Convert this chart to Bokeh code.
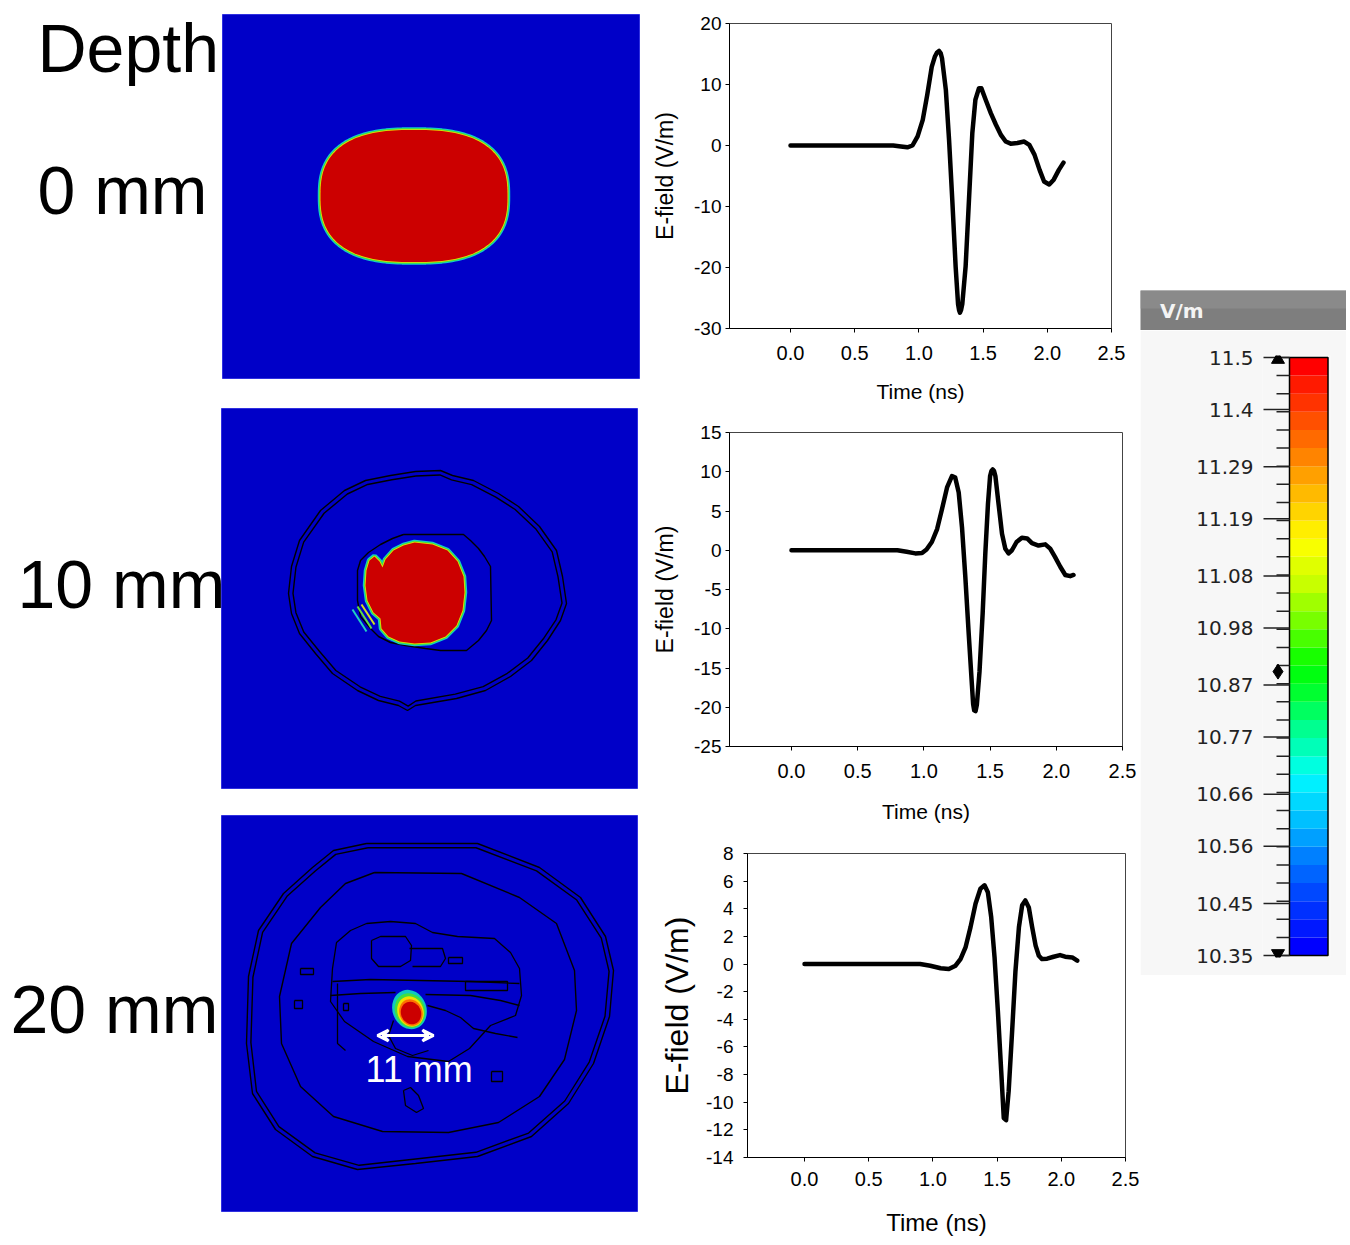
import numpy as np
from bokeh.plotting import figure
from bokeh.layouts import row, column
from bokeh.models import Range1d, FixedTicker, Spacer, PrintfTickFormatter, Arrow, VeeHead
from bokeh.core.properties import value
from bokeh.embed import file_html
from bokeh.resources import INLINE

# ---------------- waveform data ----------------
t_0mm = [0.0, 0.2, 0.4, 0.6, 0.8, 0.86, 0.91, 0.95, 0.99, 1.03, 1.065, 1.10, 1.125, 1.14, 1.157,
         1.17, 1.18, 1.21, 1.235, 1.26, 1.286, 1.305, 1.313, 1.32, 1.328, 1.338, 1.364, 1.39,
         1.416, 1.44, 1.468, 1.486, 1.52, 1.56, 1.60, 1.64, 1.676, 1.715, 1.767, 1.82, 1.86,
         1.90, 1.94, 1.975, 2.015, 2.05, 2.09, 2.126]
e_0mm = [0, 0, 0, 0, 0, -0.15, -0.3, 0.0, 1.5, 4.2, 8.3, 12.9, 14.6, 15.2, 15.5,
         15.1, 14.3, 9.1, 0.9, -8.9, -19.8, -26.0, -27.0, -27.4, -27.0, -26.0, -19.8, -8.9,
         2.0, 7.5, 9.4, 9.4, 7.5, 5.3, 3.4, 1.7, 0.65, 0.3, 0.4, 0.65, 0.1,
         -1.5, -4.0, -5.9, -6.4, -5.6, -4.0, -2.8]

t_10mm = [0.0, 0.2, 0.4, 0.6, 0.8, 0.87, 0.935, 0.986, 1.02, 1.06, 1.10, 1.137, 1.175, 1.212,
          1.237, 1.263, 1.288, 1.313, 1.338, 1.363, 1.372, 1.38, 1.39, 1.40, 1.42, 1.444, 1.464,
          1.484, 1.50, 1.51, 1.52, 1.53, 1.54, 1.564, 1.59, 1.615, 1.64, 1.665, 1.70, 1.74,
          1.78, 1.816, 1.866, 1.917, 1.954, 1.99, 2.03, 2.068, 2.105, 2.13]
e_10mm = [0, 0, 0, 0, 0, -0.2, -0.4, -0.35, 0.1, 1.05, 2.7, 5.25, 8.0, 9.45,
          9.25, 7.35, 2.9, -3.4, -10.5, -17.2, -19.6, -20.4, -20.5, -19.7, -15.5, -8.0, -0.4,
          5.9, 9.45, 10.1, 10.3, 10.1, 9.45, 5.9, 2.1, 0.2, -0.4, 0.0, 1.05, 1.6,
          1.5, 0.9, 0.6, 0.75, 0.2, -0.85, -2.1, -3.15, -3.3, -3.15]

t_20mm = [0.0, 0.2, 0.4, 0.6, 0.8, 0.9, 0.98, 1.06, 1.124, 1.176, 1.215, 1.254, 1.293, 1.332,
          1.37, 1.402, 1.428, 1.454, 1.48, 1.506, 1.532, 1.552, 1.57, 1.59, 1.617, 1.643,
          1.67, 1.695, 1.72, 1.747, 1.773, 1.80, 1.825, 1.85, 1.89, 1.94, 1.99, 2.03, 2.085,
          2.124]
e_20mm = [0, 0, 0, 0, 0, 0, -0.12, -0.3, -0.36, -0.12, 0.36, 1.2, 2.67, 4.36,
          5.45, 5.7, 5.2, 3.4, 0.5, -3.4, -7.75, -11.15, -11.3, -9.2, -4.85, -0.5,
          2.67, 4.25, 4.6, 4.1, 2.67, 1.33, 0.6, 0.36, 0.39, 0.53, 0.65, 0.53, 0.48,
          0.24]

x_ticks = [0.0, 0.5, 1.0, 1.5, 2.0, 2.5]
y_ticks_0mm = [-30, -20, -10, 0, 10, 20]
y_ticks_10mm = [-25, -20, -15, -10, -5, 0, 5, 10, 15]
y_ticks_20mm = [-14, -12, -10, -8, -6, -4, -2, 0, 2, 4, 6, 8]

# ---------------- colour scale ----------------
cb_values = [10.35, 10.45, 10.56, 10.66, 10.77, 10.87, 10.98, 11.08, 11.19, 11.29, 11.4, 11.5]
cb_labels = ["10.35", "10.45", "10.56", "10.66", "10.77", "10.87", "10.98", "11.08", "11.19",
             "11.29", "11.4", "11.5"]
cb_diamond = 10.896
cb_colors_top_down = ["#ff0000", "#ff1a00", "#ff3300", "#ff5000", "#ff6a00", "#ff8400",
                      "#ffa000", "#ffba00", "#ffd400", "#ffee00", "#f8ff00", "#e0ff00",
                      "#c8ff00", "#a0ff00", "#78ff00", "#48ff00", "#18ff00", "#00ff10",
                      "#00ff30", "#00ff60", "#00ff90", "#00ffb8", "#00ffe0", "#00f0ff",
                      "#00d8ff", "#00c0ff", "#00a0ff", "#0080ff", "#0064ff", "#0048ff",
                      "#0030ff", "#0018ff", "#0000ff"]

# ---------------- left panel (field maps) ----------------
depth_labels = ["Depth", "0 mm", "10 mm", "20 mm"]
depth_x = [37, 37, 17, 10]
depth_y = [47, 189, 583, 1008]

map_left = [222, 221, 221]
map_right = [639, 637, 637]
map_top = [14, 408, 815]
map_bottom = [378, 788, 1211]

# 0 mm: red region as rounded superellipse (cx, cy, a, b, n)
spot0 = (413.5, 195.5, 93.5, 66.0, 2.6)

# 10 mm red region outline
spot10_x = [414, 432, 447, 457, 463, 464, 462, 456, 445, 430, 414, 399, 388, 381, 380, 373, 367,
            365, 366, 369, 374, 379, 382, 385, 393, 403]
spot10_y = [542, 544, 550, 561, 576, 592, 610, 625, 636, 642, 643, 641, 636, 628, 618, 612, 600,
            585, 570, 560, 556, 561, 567, 559, 550, 545]
streak10_x = [[352, 366], [357, 371], [361, 374]]
streak10_y = [[609, 631], [606, 628], [604, 624]]
streak10_c = ["#20d0c0", "#60e040", "#d0e020"]

inner10_x = [403, 463, 470, 478, 484, 490, 491, 486, 478, 466, 440, 425, 405, 390, 378, 370, 360,
             357, 357, 360, 368, 380, 392]
inner10_y = [534, 534, 540, 548, 556, 566, 620, 630, 640, 650, 650, 648, 645, 642, 636, 628, 616,
             600, 570, 560, 552, 544, 538]
outer10_x = [415, 440, 452, 473, 498, 518, 539, 556, 562, 566, 560, 547, 531, 510, 485, 456, 415,
             407, 398, 378, 357, 332, 315, 299, 291, 288, 291, 299, 320, 344, 365, 390]
outer10_y = [471, 470, 475, 480, 493, 506, 526, 550, 576, 603, 620, 640, 660, 676, 690, 698, 705,
             710, 705, 700, 690, 673, 653, 633, 613, 593, 566, 540, 510, 490, 480, 475]

# 20 mm contours
outer20_x = [366, 477, 539, 580, 605, 613, 609, 593, 568, 531, 477, 415, 357, 312, 275, 252, 246,
             248, 258, 283, 312, 333]
outer20_y = [843, 843, 867, 897, 936, 970, 1016, 1063, 1103, 1136, 1156, 1163, 1169, 1156, 1129,
             1093, 1043, 976, 930, 893, 867, 850]
mid20_x = [374, 461, 519, 556, 574, 576, 564, 539, 498, 448, 382, 333, 300, 281, 279, 291, 320, 345]
mid20_y = [872, 873, 897, 923, 970, 1010, 1059, 1096, 1122, 1132, 1131, 1116, 1086, 1043, 996, 943,
           907, 883]
tissue20_x = [
    [366, 390, 415, 432, 457, 494, 510, 519, 521, 515, 490, 469, 448, 407, 373, 344, 330, 332, 336, 350, 366],
    [332, 370, 420, 470, 519],
    [330, 360, 395],
    [425, 470, 500, 519],
    [371, 380, 405, 411, 410, 400, 378, 371, 371],
    [409, 442, 445, 440, 412],
    [465, 507, 507, 465, 465],
    [427, 445, 460, 473, 495, 517],
    [393, 388, 395, 412, 428],
    [403, 410, 418, 423, 416, 405, 403],
    [300, 313, 313, 300, 300],
    [294, 302, 302, 294, 294],
    [343, 348, 348, 343, 343],
    [491, 502, 502, 491, 491],
    [448, 462, 462, 448, 448],
    [337, 337, 345],
]
tissue20_y = [
    [923, 921, 923, 932, 936, 938, 952, 968, 995, 1015, 1025, 1048, 1061, 1056, 1041, 1021, 1001, 968, 942, 930, 923],
    [981, 979, 980, 981, 983],
    [995, 993, 992],
    [994, 995, 1000, 1005],
    [940, 936, 936, 945, 960, 966, 966, 958, 940],
    [948, 948, 958, 966, 966],
    [981, 981, 990, 990, 981],
    [1005, 1010, 1017, 1028, 1033, 1037],
    [1020, 1035, 1048, 1055, 1050],
    [1090, 1087, 1095, 1108, 1112, 1105, 1090],
    [968, 968, 974, 974, 968],
    [1000, 1000, 1008, 1008, 1000],
    [1003, 1003, 1010, 1010, 1003],
    [1071, 1071, 1081, 1081, 1071],
    [957, 957, 963, 963, 957],
    [983, 1043, 1050],
]
hot20_x = [409, 409.5, 410, 410.5, 410.5]
hot20_y = [1009, 1010, 1011, 1012, 1012.5]
hot20_w = [34, 30, 26, 23, 20]
hot20_h = [40, 35, 31, 27, 23]
hot20_c = ["#10c8c0", "#40e040", "#f0e000", "#ff7000", "#cc0000"]
arrow20_x = [377, 433]
arrow20_y = [1035, 1035]
size_label = "11 mm"
size_label_x = 365
size_label_y = 1069

HEAT_BLUE = "#0000c8"
HEAT_RED = "#cc0000"
FONT = "Liberation Sans"


def closed(xs, ys):
    return list(xs) + [xs[0]], list(ys) + [ys[0]]


def shrink(xs, ys, d):
    cx, cy = np.mean(xs), np.mean(ys)
    xa, ya = np.array(xs, float), np.array(ys, float)
    r = np.hypot(xa - cx, ya - cy)
    f = (r - d) / r
    return list(cx + (xa - cx) * f), list(cy + (ya - cy) * f)


def hot_spot(p, xs, ys):
    # red region with thin yellow / green / cyan rim
    p.patch(xs, ys, fill_color="#10c8d0", line_color="#10c8d0", line_width=5.5)
    p.patch(xs, ys, fill_color="#40e040", line_color="#40e040", line_width=3.5)
    p.patch(xs, ys, fill_color="#e8e000", line_color="#e8e000", line_width=1.6)
    p.patch(xs, ys, fill_color=HEAT_RED, line_color=None)


def bare(p):
    p.outline_line_color = None
    p.grid.visible = False
    p.frame_align = False


PAGE_H = 1245

left = figure(width=640, height=PAGE_H, x_range=Range1d(0, 640), y_range=Range1d(PAGE_H, 0),
              output_backend="svg", toolbar_location=None, min_border=0,
              x_axis_location=None, y_axis_location=None)
bare(left)
left.background_fill_color = "white"
left.border_fill_color = "white"

left.quad(left=map_left, right=map_right, top=map_top, bottom=map_bottom,
          fill_color=HEAT_BLUE, line_color="#3030e0", line_width=1)

# 0 mm
cx, cy, a, b, n = spot0
th = np.linspace(0, 2 * np.pi, 181)[:-1]
c, s = np.cos(th), np.sin(th)
sx = list(cx + a * np.sign(c) * np.abs(c) ** (2 / n))
sy = list(cy + b * np.sign(s) * np.abs(s) ** (2 / n))
hot_spot(left, sx, sy)

# 10 mm
ox, oy = closed(outer10_x, outer10_y)
left.line(ox, oy, line_color="black", line_width=1.4)
ix, iy = shrink(outer10_x, outer10_y, 4.5)
ix, iy = closed(ix, iy)
left.line(ix, iy, line_color="black", line_width=1.4)
nx, ny = closed(inner10_x, inner10_y)
left.line(nx, ny, line_color="black", line_width=1.4)
hot_spot(left, spot10_x, spot10_y)
left.multi_line(streak10_x, streak10_y, line_color=streak10_c, line_width=2)

# 20 mm
ox, oy = closed(outer20_x, outer20_y)
left.line(ox, oy, line_color="black", line_width=1.4)
ix, iy = shrink(outer20_x, outer20_y, 4.5)
ix, iy = closed(ix, iy)
left.line(ix, iy, line_color="black", line_width=1.4)
mx, my = closed(mid20_x, mid20_y)
left.line(mx, my, line_color="black", line_width=1.4)
left.multi_line(tissue20_x, tissue20_y, line_color="black", line_width=1.3)
left.ellipse(x=hot20_x, y=hot20_y, width=hot20_w, height=hot20_h, angle=0.35,
             fill_color=hot20_c, line_color=None)
left.add_layout(Arrow(start=VeeHead(size=11, line_color="white", line_width=3, fill_color=None),
                      end=VeeHead(size=11, line_color="white", line_width=3, fill_color=None),
                      x_start=arrow20_x[0], y_start=arrow20_y[0],
                      x_end=arrow20_x[1], y_end=arrow20_y[1],
                      line_color="white", line_width=3))
left.text(x=[size_label_x], y=[size_label_y], text=[size_label], text_color="white",
          text_font=value(FONT), text_font_size="36px",
          text_align="left", text_baseline="alphabetic")

left.text(x=depth_x, y=depth_y, text=depth_labels, text_color="black",
          text_font=value(FONT), text_font_size="68px",
          text_align="left", text_baseline="alphabetic")


# ---------------- waveform charts ----------------
def make_chart(t, e, x_start, y_rng, yticks, h, bl, br, bt, bb, ylab_size, xlab_size,
               ylab_so, xlab_so, ytick_so, xtick_so):
    p = figure(width=500, height=h, x_range=Range1d(x_start, 2.5), y_range=Range1d(*y_rng),
               output_backend="svg", toolbar_location=None,
               min_border_left=bl, min_border_right=br, min_border_top=bt, min_border_bottom=bb)
    p.frame_align = False
    p.line(t, e, line_width=4.5, line_color="black", line_join="round", line_cap="round")
    p.xgrid.visible = False
    p.ygrid.visible = False
    p.outline_line_color = "#444444"
    p.outline_line_width = 1
    p.background_fill_color = "white"
    p.border_fill_color = "white"

    p.xaxis.ticker = FixedTicker(ticks=x_ticks)
    p.xaxis.formatter = PrintfTickFormatter(format="%.1f")
    p.yaxis.ticker = FixedTicker(ticks=yticks)
    p.yaxis.formatter = PrintfTickFormatter(format="%d")
    for ax in (p.xaxis, p.yaxis):
        ax.axis_line_color = "black"
        ax.axis_line_width = 1
        ax.major_tick_line_color = "black"
        ax.major_tick_out = 4
        ax.major_tick_in = 0
        ax.minor_tick_line_color = None
        ax.major_label_text_font = FONT
        ax.major_label_text_color = "black"
        ax.axis_label_text_font = FONT
        ax.axis_label_text_font_style = "normal"
        ax.axis_label_text_color = "black"
    p.xaxis.major_label_text_font_size = "20px"
    p.yaxis.major_label_text_font_size = "19px"
    p.xaxis.axis_label = "Time (ns)"
    p.yaxis.axis_label = "E-field (V/m)"
    p.xaxis.axis_label_text_font_size = xlab_size
    p.yaxis.axis_label_text_font_size = ylab_size
    p.xaxis.axis_label_standoff = xlab_so
    p.yaxis.axis_label_standoff = ylab_so
    p.yaxis.major_label_standoff = ytick_so
    p.xaxis.major_label_standoff = xtick_so
    return p


c1 = make_chart(t_0mm, e_0mm, -0.475, (-30, 20), y_ticks_0mm, 418, 89, 29, 23, 90,
                "23px", "21px", 13, 17, 4, 13)
c2 = make_chart(t_10mm, e_10mm, -0.468, (-25, 15), y_ticks_10mm, 420, 89, 18, 14, 92,
                "23px", "21px", 13, 19, 4, 13)
c3 = make_chart(t_20mm, e_20mm, -0.444, (-14, 8), y_ticks_20mm, 407, 107, 15, 15, 88,
                "32px", "24px", 8, 20, 10, 10)

# ---------------- colour bar panel ----------------
RW = 206
header = figure(width=RW, height=40, x_range=Range1d(0, 1), y_range=Range1d(0, 1),
                output_backend="svg", toolbar_location=None, min_border=0,
                x_axis_location=None, y_axis_location=None)
bare(header)
header.background_fill_color = "#7e7e7e"
header.border_fill_color = "#7e7e7e"
header.quad(left=[0], right=[1], top=[1], bottom=[0.55], fill_color="#8a8a8a", line_color=None)
header.text(x=[0.095], y=[0.5], text=["V/m"], text_color="#f4f4f4",
            text_font=value("DejaVu Sans"), text_font_style="bold", text_font_size="20px",
            text_align="left", text_baseline="middle")

pad = 2 * (cb_values[-1] - cb_values[0]) / 598
cb = figure(width=RW, height=645, x_range=Range1d(1262, 1330),
            y_range=Range1d(cb_values[0] - pad, cb_values[-1] + pad),
            output_backend="svg", toolbar_location=None,
            min_border_left=122, min_border_right=RW - 190, min_border_top=25, min_border_bottom=18,
            x_axis_location=None, y_axis_location="left")
cb.frame_align = False
cb.outline_line_color = None
cb.background_fill_color = "#f7f7f7"
cb.border_fill_color = "#f7f7f7"
cb.xgrid.visible = False
cb.ygrid.visible = False

edges = np.linspace(cb_values[0], cb_values[-1], len(cb_colors_top_down) + 1)
cb.quad(left=1289, right=1327.5, bottom=edges[:-1], top=edges[1:],
        fill_color=cb_colors_top_down[::-1], line_color=None)
cb.quad(left=[1289], right=[1327.5], bottom=[cb_values[0]], top=[cb_values[-1]],
        fill_color=None, line_color="black", line_width=1.5)
cb.segment(x0=1276, x1=1289, y0=edges, y1=edges, line_color="#222222", line_width=1.5)
cb.segment(x0=1263, x1=1289, y0=cb_values, y1=cb_values, line_color="#222222", line_width=1.5)
cb.scatter(x=[1277.5], y=[cb_values[-1] - 0.004], marker="triangle", size=13, color="black")
cb.scatter(x=[1277.5], y=[cb_values[0] + 0.004], marker="inverted_triangle", size=13, color="black")
cb.scatter(x=[1277.5], y=[cb_diamond], marker="diamond", size=15, color="black")

cb.yaxis.ticker = FixedTicker(ticks=cb_values)
cb.yaxis.major_label_overrides = dict(zip(cb_values, cb_labels))
cb.yaxis.axis_line_color = None
cb.yaxis.major_tick_line_color = None
cb.yaxis.minor_tick_line_color = None
cb.yaxis.major_label_standoff = 3
cb.yaxis.major_label_text_font = "DejaVu Sans"
cb.yaxis.major_label_text_font_size = "20px"
cb.yaxis.major_label_text_color = "#222222"

right = column(Spacer(width=RW, height=290), header, cb, Spacer(width=RW, height=PAGE_H - 290 - 40 - 645))

page = row(left, column(c1, c2, c3), right)

open("out.html", "w").write(file_html(page, INLINE))
